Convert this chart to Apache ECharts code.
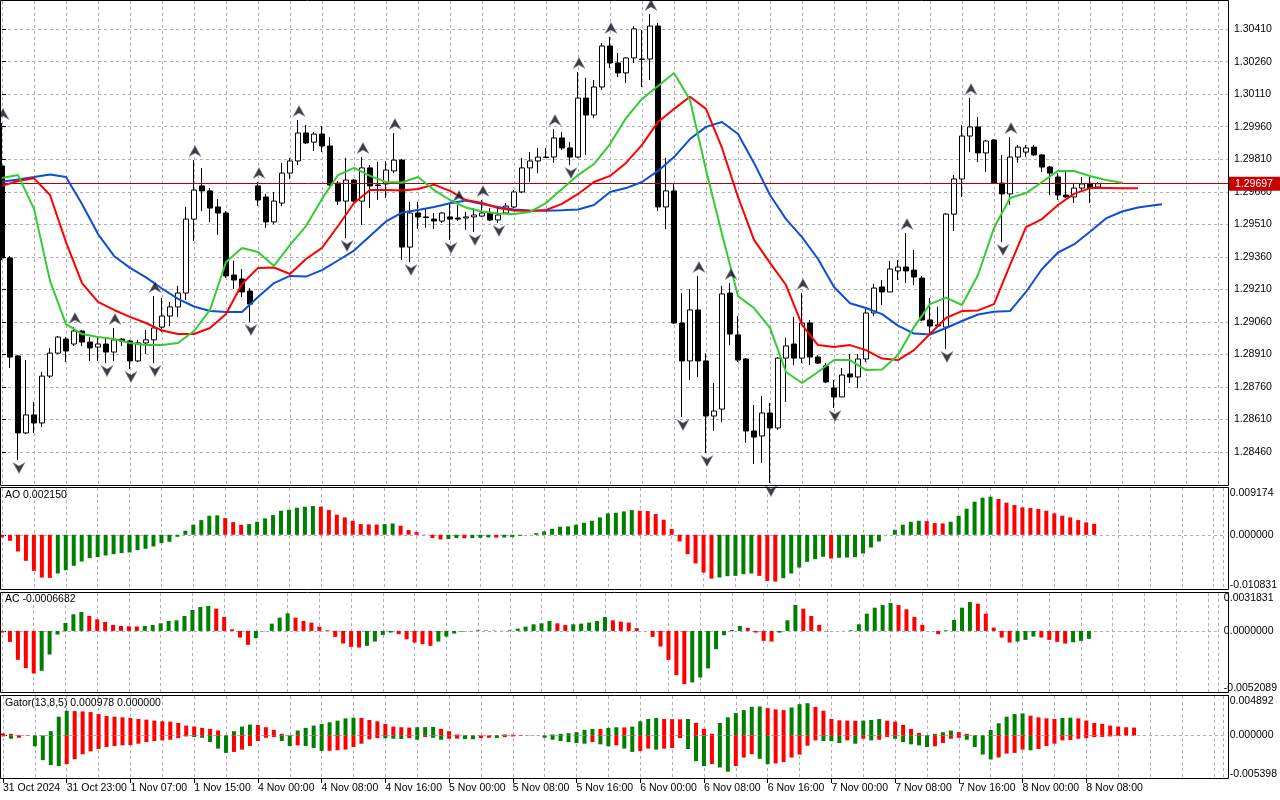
<!DOCTYPE html>
<html><head><meta charset="utf-8">
<script src="https://cdn.jsdelivr.net/npm/echarts@6/dist/echarts.min.js"></script>
<style>html,body{margin:0;padding:0;background:#fff}#c{width:1280px;height:800px}</style>
</head><body><div id="c"></div>
<script>
// ---------- data (H1 bars, index 0 = 31 Oct 15:00) ----------
const timeLabels = ['31 Oct 2024','31 Oct 23:00','1 Nov 07:00','1 Nov 15:00','4 Nov 00:00','4 Nov 08:00','4 Nov 16:00','5 Nov 00:00','5 Nov 08:00','5 Nov 16:00','6 Nov 00:00','6 Nov 08:00','6 Nov 16:00','7 Nov 00:00','7 Nov 08:00','7 Nov 16:00','8 Nov 00:00','8 Nov 08:00'];
const priceTicks = [1.28460,1.28610,1.28760,1.28910,1.29060,1.29210,1.29360,1.29510,1.29660,1.29810,1.29960,1.30110,1.30260,1.30410];
const priceRange = [1.283033, 1.305396];
const aoRange = [-0.010831, 0.009174];
const acRange = [-0.0052089, 0.0031831];
const gatorRange = [-0.005398, 0.004892];

const opens = [
1.29779,1.29355,1.28903,1.28548,1.28631,1.28594,1.28810,1.28916,1.28981,1.28958,
1.29018,1.28967,1.28944,1.28958,1.28921,1.28981,1.28972,1.28880,1.28963,1.28977,
1.29036,1.29087,1.29129,1.29193,1.29534,1.29687,1.29664,1.29590,1.29562,1.29276,
1.29258,1.29202,1.29687,1.29636,1.29521,1.29608,1.29746,1.29802,1.29931,1.29889,
1.29926,1.29871,1.29700,1.29617,1.29714,1.29617,1.29770,1.29691,1.29696,1.29756,
1.29806,1.29405,1.29562,1.29544,1.29534,1.29525,1.29544,1.29539,1.29539,1.29544,
1.29548,1.29562,1.29530,1.29562,1.29590,1.29659,1.29770,1.29802,1.29820,1.29820,
1.29908,1.29862,1.29820,1.30092,1.30014,1.30143,1.30332,1.30254,1.30208,1.30277,
1.30272,1.30272,1.30424,1.29590,1.29664,1.29055,1.28880,1.29115,1.28880,1.28626,
1.28658,1.29193,1.29000,1.28889,1.28557,1.28534,1.28640,1.28571,1.28893,1.28958,
1.28893,1.29055,1.28898,1.28857,1.28755,1.28714,1.28820,1.28806,1.28889,1.29101,
1.29221,1.29198,1.29295,1.29313,1.29299,1.29262,1.29069,1.29046,1.29036,1.29557,
1.29719,1.29917,1.29959,1.29839,1.29899,1.29700,1.29650,1.29820,1.29843,1.29866,
1.29830,1.29774,1.29728,1.29645,1.29636,1.29677,1.29696,1.29682];
const closes = [
1.29355,1.28898,1.28548,1.28631,1.28594,1.28810,1.28916,1.28990,1.28926,1.29018,
1.28967,1.28940,1.28958,1.28921,1.28977,1.28972,1.28880,1.28963,1.28977,1.29032,
1.29087,1.29129,1.29193,1.29534,1.29668,1.29664,1.29585,1.29562,1.29272,1.29253,
1.29198,1.29142,1.29622,1.29521,1.29617,1.29746,1.29802,1.29931,1.29885,1.29926,
1.29871,1.29691,1.29617,1.29714,1.29617,1.29770,1.29687,1.29689,1.29760,1.29806,
1.29405,1.29562,1.29544,1.29541,1.29525,1.29562,1.29534,1.29534,1.29544,1.29553,
1.29562,1.29530,1.29553,1.29594,1.29659,1.29770,1.29802,1.29820,1.29818,1.29908,
1.29862,1.29820,1.30092,1.30014,1.30143,1.30332,1.30254,1.30208,1.30277,1.30411,
1.30270,1.30424,1.29590,1.29664,1.29055,1.28880,1.29115,1.28880,1.28626,1.28649,
1.29189,1.29004,1.28884,1.28557,1.28529,1.28640,1.28571,1.28893,1.28949,1.28893,
1.29055,1.28898,1.28870,1.28783,1.28714,1.28815,1.28806,1.28889,1.29101,1.29216,
1.29198,1.29304,1.29313,1.29295,1.29267,1.29069,1.29041,1.29041,1.29557,1.29719,
1.29917,1.29959,1.29839,1.29894,1.29700,1.29650,1.29820,1.29866,1.29862,1.29830,
1.29774,1.29746,1.29645,1.29636,1.29677,1.29696,1.29677,1.29697];
const lows = [
1.29345,1.28847,1.28423,1.28543,1.28548,1.28575,1.28801,1.28912,1.28875,1.28949,
1.28949,1.28880,1.28880,1.28870,1.28880,1.28949,1.28843,1.28875,1.28912,1.28870,
1.29013,1.29041,1.29083,1.29161,1.29433,1.29571,1.29521,1.29461,1.29262,1.29212,
1.29175,1.29059,1.29594,1.29493,1.29511,1.29594,1.29719,1.29783,1.29880,1.29848,
1.29843,1.29687,1.29599,1.29447,1.29599,1.29507,1.29585,1.29622,1.29631,1.29746,
1.29345,1.29336,1.29488,1.29493,1.29488,1.29516,1.29438,1.29525,1.29484,1.29474,
1.29544,1.29525,1.29516,1.29557,1.29585,1.29654,1.29705,1.29746,1.29816,1.29793,
1.29853,1.29783,1.29816,1.29830,1.30000,1.30129,1.30231,1.30189,1.30161,1.30254,
1.30143,1.30175,1.29571,1.29488,1.29050,1.28621,1.28792,1.28806,1.28455,1.28557,
1.28598,1.28953,1.28875,1.28502,1.28405,1.28409,1.28317,1.28562,1.28691,1.28861,
1.28870,1.28861,1.28866,1.28778,1.28663,1.28714,1.28778,1.28755,1.28875,1.29087,
1.29138,1.29198,1.29253,1.29239,1.29230,1.29064,1.29004,1.29036,1.28935,1.29479,
1.29636,1.29843,1.29797,1.29751,1.29696,1.29428,1.29599,1.29793,1.29820,1.29825,
1.29751,1.29645,1.29622,1.29631,1.29608,1.29659,1.29608,1.29677];
const highs = [
1.29977,1.29364,1.28907,1.28884,1.28691,1.28829,1.28940,1.28995,1.28990,1.29036,
1.29023,1.28990,1.28990,1.28986,1.29032,1.28986,1.28977,1.28977,1.29023,1.29179,
1.29170,1.29152,1.29226,1.29590,1.29806,1.29770,1.29677,1.29627,1.29571,1.29341,
1.29304,1.29216,1.29705,1.29650,1.29659,1.29793,1.29816,1.29991,1.29968,1.29936,
1.29963,1.29912,1.29710,1.29816,1.29719,1.29820,1.29783,1.29797,1.29802,1.29931,
1.29811,1.29613,1.29613,1.29581,1.29562,1.29567,1.29608,1.29599,1.29567,1.29585,
1.29622,1.29585,1.29590,1.29608,1.29668,1.29816,1.29843,1.29862,1.29862,1.29949,
1.29936,1.29889,1.30212,1.30185,1.30175,1.30346,1.30374,1.30300,1.30281,1.30424,
1.30406,1.30480,1.30438,1.29816,1.29700,1.29193,1.29212,1.29272,1.28916,1.28778,
1.29226,1.29239,1.29087,1.28893,1.28677,1.28718,1.28686,1.28898,1.28986,1.29083,
1.29193,1.29069,1.28907,1.28870,1.28792,1.28847,1.28912,1.28912,1.29124,1.29235,
1.29253,1.29341,1.29345,1.29470,1.29391,1.29272,1.29170,1.29129,1.29562,1.29737,
1.29968,1.30092,1.30005,1.29899,1.29903,1.29830,1.29912,1.29876,1.29876,1.29876,
1.29834,1.29779,1.29746,1.29751,1.29696,1.29728,1.29728,1.29705];

const fractalUp = [0,9,14,19,24,32,37,45,49,57,60,69,72,76,81,87,91,100,113,121,126];
const fractalDown = [2,13,16,19,31,43,51,56,59,62,71,85,88,96,104,118,125];

// Alligator lines, sampled every 2nd bar (already shifted as drawn)
const lips = [
1.29723,1.29737,1.29581,1.29249,1.29050,1.29004,1.28990,1.28981,1.28963,1.28953,
1.28953,1.28963,1.29018,1.29115,1.29336,1.29401,1.29382,1.29318,1.29415,1.29502,
1.29627,1.29737,1.29770,1.29733,1.29705,1.29703,1.29728,1.29668,1.29622,1.29587,
1.29569,1.29560,1.29557,1.29567,1.29608,1.29673,1.29737,1.29788,1.29880,1.30000,
1.30088,1.30148,1.30208,1.30083,1.29760,1.29465,1.29179,1.29124,1.29032,1.28829,
1.28778,1.28829,1.28884,1.28884,1.28838,1.28840,1.28907,1.29036,1.29142,1.29172,
1.29138,1.29276,1.29493,1.29631,1.29654,1.29705,1.29756,1.29756,1.29733,1.29714,
1.29702];
const teeth = [
1.29687,1.29710,1.29722,1.29645,1.29428,1.29239,1.29152,1.29115,1.29083,1.29055,
1.29020,1.29004,1.29004,1.29032,1.29096,1.29235,1.29309,1.29311,1.29281,1.29350,
1.29401,1.29502,1.29608,1.29668,1.29668,1.29666,1.29673,1.29693,1.29664,1.29622,
1.29608,1.29585,1.29574,1.29571,1.29576,1.29604,1.29650,1.29705,1.29733,1.29793,
1.29876,1.29982,1.30042,1.30098,1.30042,1.29862,1.29636,1.29438,1.29332,1.29230,
1.29046,1.28953,1.28944,1.28953,1.28930,1.28891,1.28884,1.28930,1.29004,1.29078,
1.29110,1.29113,1.29142,1.29322,1.29497,1.29534,1.29599,1.29650,1.29677,1.29677,
1.29676,1.29676];
const jaw = [
1.29706,1.29717,1.29728,1.29740,1.29728,1.29604,1.29465,1.29364,1.29309,1.29265,
1.29214,1.29166,1.29131,1.29110,1.29106,1.29106,1.29175,1.29239,1.29272,1.29269,
1.29299,1.29343,1.29389,1.29456,1.29523,1.29564,1.29576,1.29590,1.29607,1.29620,
1.29604,1.29590,1.29578,1.29574,1.29573,1.29575,1.29578,1.29599,1.29659,1.29677,
1.29705,1.29756,1.29820,1.29903,1.29959,1.29982,1.29926,1.29793,1.29645,1.29534,
1.29451,1.29350,1.29221,1.29146,1.29124,1.29096,1.29043,1.29006,1.29002,1.29032,
1.29064,1.29094,1.29107,1.29110,1.29198,1.29304,1.29380,1.29417,1.29476,1.29537,
1.29569,1.29587,1.29598];
const jawLast = [145, 1.29602];

const ao = [
-0.000500,-0.001180,-0.003277,-0.005111,-0.007077,-0.008388,-0.008453,-0.007601,-0.006946,-0.006094,
-0.005242,-0.004587,-0.004391,-0.004063,-0.003801,-0.003604,-0.003473,-0.003014,-0.002752,-0.002294,
-0.001638,-0.001376,-0.000393,0.000786,0.001966,0.002883,0.003735,0.003801,0.003277,0.002490,
0.001966,0.002097,0.002556,0.003211,0.003866,0.004718,0.004915,0.005308,0.005505,0.005636,
0.005505,0.004849,0.003932,0.003408,0.002752,0.002097,0.002031,0.001999,0.002097,0.002228,
0.001769,0.000917,0.000524,-0.000066,-0.000655,-0.000917,-0.000852,-0.000655,-0.000688,-0.000655,
-0.000590,-0.000524,-0.000557,-0.000524,-0.000459,-0.000197,0.000010,0.000328,0.000655,0.001180,
0.001573,0.001638,0.001966,0.002359,0.002752,0.003408,0.004194,0.004325,0.004587,0.004849,
0.004718,0.004653,0.004063,0.002949,0.001114,-0.001311,-0.003801,-0.005636,-0.007405,-0.008584,
-0.008388,-0.008126,-0.008060,-0.007733,-0.007601,-0.008060,-0.009043,-0.009174,-0.008519,-0.007601,
-0.006422,-0.005308,-0.004784,-0.004325,-0.004653,-0.004522,-0.004456,-0.004391,-0.003670,-0.002490,
-0.001311,0.000030,0.000983,0.001966,0.002556,0.002752,0.002687,0.002294,0.002228,0.002556,
0.003735,0.005111,0.006487,0.007274,0.007470,0.007012,0.006291,0.005832,0.005373,0.005242,
0.005046,0.004718,0.004194,0.003735,0.003408,0.002883,0.002425,0.002150];
const ac = [
-0.000139,-0.000920,-0.002426,-0.003123,-0.003569,-0.003346,-0.001979,-0.000307,0.000669,0.001394,
0.001589,0.001255,0.000976,0.000753,0.000502,0.000418,0.000390,0.000376,0.000418,0.000502,
0.000641,0.000836,0.000892,0.001255,0.001756,0.002007,0.002091,0.001868,0.001171,0.000139,
-0.000558,-0.001171,-0.000613,-0.000028,0.000613,0.001115,0.001478,0.001115,0.000836,0.000697,
0.000362,0.000056,-0.000502,-0.001059,-0.001338,-0.001394,-0.001255,-0.000892,-0.000335,-0.000139,
-0.000279,-0.000697,-0.000976,-0.001115,-0.001255,-0.000892,-0.000474,-0.000223,-0.000056,-0.000028,
0.000056,0.000042,0.000028,0.000014,0.000056,0.000195,0.000362,0.000558,0.000641,0.000836,
0.000641,0.000502,0.000558,0.000613,0.000697,0.000836,0.001171,0.000892,0.000781,0.000697,
0.000223,-0.000010,-0.000502,-0.001310,-0.002426,-0.003708,-0.004461,-0.004321,-0.003903,-0.003150,
-0.001533,-0.000362,0.000084,0.000418,0.000251,-0.000139,-0.000836,-0.000892,-0.000139,0.000892,
0.002175,0.001868,0.001255,0.000502,-0.000028,0.000000,0.000008,0.000056,0.000558,0.001450,
0.001952,0.002175,0.002342,0.002175,0.001812,0.001171,0.000502,0.000000,-0.000279,0.000056,
0.000920,0.001952,0.002426,0.002286,0.001450,0.000279,-0.000558,-0.000976,-0.000892,-0.000753,
-0.000474,-0.000558,-0.000753,-0.000920,-0.001059,-0.000948,-0.000836,-0.0006682];
const gatorUp = [
0.000245,0.000204,0.000041,0.000020,0.000010,0.000005,0.000531,0.002327,0.003062,0.003021,
0.002981,0.002899,0.002654,0.002409,0.002327,0.002246,0.002164,0.002042,0.001960,0.001837,
0.001756,0.001715,0.001552,0.001225,0.001102,0.000939,0.000817,0.000612,0.000020,0.000531,
0.001102,0.001347,0.001307,0.001021,0.000694,0.000204,0.000020,0.000612,0.000939,0.001225,
0.001429,0.001633,0.001837,0.002123,0.002205,0.002164,0.001919,0.001756,0.001429,0.001102,
0.001021,0.000980,0.001021,0.001041,0.001062,0.000817,0.000531,0.000122,0.000041,0.000020,
0.000010,0.000005,0.000041,0.000122,0.000102,0.000041,0.000020,0.000010,0.000005,0.000122,
0.000204,0.000286,0.000408,0.000694,0.000817,0.000796,0.000939,0.001021,0.001000,0.001102,
0.001756,0.002042,0.002164,0.002042,0.002021,0.002001,0.002042,0.001552,0.000817,0.000204,
0.001552,0.002246,0.002776,0.003144,0.003552,0.003593,0.003389,0.003226,0.003144,0.003471,
0.003879,0.004001,0.003552,0.003062,0.002042,0.001878,0.001837,0.001817,0.001837,0.001919,
0.002042,0.001837,0.001715,0.001307,0.000817,0.000327,0.000041,0.000204,0.000408,0.000612,
0.000408,0.000204,0.000041,0.000020,0.000694,0.001511,0.002327,0.002654,0.002736,0.002450,
0.002246,0.002123,0.002042,0.002164,0.002205,0.002123,0.001837,0.001552,0.001429,0.001225,
0.001102,0.001021,0.000978];
const gatorDown = [
-0.000122,-0.000408,-0.000286,-0.000041,-0.001347,-0.003062,-0.003675,-0.003797,-0.003552,-0.002940,
-0.002327,-0.001960,-0.001674,-0.001429,-0.001307,-0.001225,-0.001204,-0.001021,-0.000817,-0.000694,
-0.000612,-0.000531,-0.000327,-0.000122,-0.000204,-0.000286,-0.000817,-0.001633,-0.002164,-0.002042,
-0.001756,-0.001307,-0.000694,-0.000286,-0.000204,-0.000694,-0.001307,-0.001225,-0.001307,-0.001552,
-0.001919,-0.001899,-0.001837,-0.001756,-0.001429,-0.001021,-0.000490,-0.000327,-0.000347,-0.000408,
-0.000429,-0.000327,-0.000531,-0.000204,-0.000286,-0.000531,-0.000408,-0.000388,-0.000449,-0.000470,
-0.000327,-0.000286,-0.000306,-0.000204,-0.000122,-0.000041,-0.000020,-0.000010,-0.000286,-0.000531,
-0.000694,-0.000817,-0.000939,-0.001021,-0.000817,-0.001102,-0.001347,-0.001225,-0.001633,-0.002042,
-0.001919,-0.001633,-0.001756,-0.001633,-0.001552,-0.000327,-0.001674,-0.003185,-0.003797,-0.003552,
-0.003961,-0.004491,-0.003797,-0.002736,-0.002327,-0.002899,-0.003552,-0.003471,-0.003307,-0.002736,
-0.002368,-0.001266,-0.000612,-0.000694,-0.000715,-0.000939,-0.000612,-0.001021,-0.000408,-0.000612,
-0.000531,-0.000204,-0.000408,-0.000817,-0.001102,-0.001225,-0.001429,-0.001347,-0.000939,-0.000408,
-0.000286,-0.000531,-0.001429,-0.002368,-0.002981,-0.002736,-0.002246,-0.002164,-0.001756,-0.001837,
-0.001674,-0.001307,-0.001021,-0.000612,-0.000572,-0.000408,-0.000327,-0.000204,-0.000184,-0.000122,
-0.000082,0,0];

// ---------- chart ----------
const FONT = 'Liberation Sans';
const FS = 10.5;
const X_MAX = 153.25;           // bar slots spanned by the plot width
const GREEN = '#008000', RED = '#ff0000';
const GRID_COLOR = '#b6a9ba';
const N = opens.length;

const panels = [
  {top: 1, height: 485},
  {top: 488, height: 102},
  {top: 593, height: 100},
  {top: 696, height: 83}
];

const candleData = opens.map((o, i) => [i, o, closes[i], lows[i], highs[i]]);
const step = 2;
const toLine = arr => arr.map((v, k) => [k * step, v]);
const jawData = toLine(jaw).concat([jawLast]);

function upDownColors(arr, absMode) {
  return arr.map((v, i) => {
    if (i === 0) return RED;
    const a = absMode ? Math.abs(v) : v, b = absMode ? Math.abs(arr[i-1]) : arr[i-1];
    return a > b ? GREEN : RED;
  });
}
const aoColors = upDownColors(ao, false);
const acColors = upDownColors(ac, false);
const guColors = upDownColors(gatorUp, true);
const gdColors = upDownColors(gatorDown, true);

const labelIdx = timeLabels.map((_, k) => k * 8);

const xAxes = panels.map((p, g) => ({
  type: 'value', gridIndex: g, min: 0, max: X_MAX, interval: 4, position: 'bottom',
  axisLine: {show: false}, axisTick: {show: false}, axisLabel: {show: false},
  splitLine: {show: true, lineStyle: {color: GRID_COLOR, width: 1, type: [3, 3]}}
}));
xAxes.push({
  type: 'value', gridIndex: 3, min: 0, max: X_MAX, interval: 8, position: 'bottom',
  axisLine: {show: false}, splitLine: {show: false},
  axisTick: {show: true, customValues: labelIdx, length: 4, lineStyle: {color: '#000'}},
  axisLabel: {show: true, customValues: labelIdx, align: 'left', margin: 4,
    color: '#000', fontSize: FS, fontFamily: FONT,
    formatter: v => timeLabels[Math.round(v / 8)] || ''}
});

function panelYAxis(g, range, digits) {
  const lo = range[0], hi = range[1];
  const pad = (hi - lo) * 5 / panels[g].height;
  return {
    type: 'value', gridIndex: g, position: 'right', min: lo, max: hi,
    axisLine: {show: false}, splitLine: {show: false},
    axisTick: {show: true, customValues: [0], length: 4, lineStyle: {color: '#000'}},
    axisLabel: {customValues: [lo + pad, 0, hi - pad], margin: 6, color: '#000', fontSize: FS, fontFamily: FONT,
      formatter: v => (v > 0 ? hi : (v < 0 ? lo : 0)).toFixed(digits)}
  };
}
const yAxes = [
  {type: 'value', gridIndex: 0, position: 'right', min: priceRange[0], max: priceRange[1],
   axisLine: {show: false}, splitLine: {show: false},
   axisTick: {show: true, customValues: priceTicks, length: 4, lineStyle: {color: '#000'}},
   axisLabel: {customValues: priceTicks, margin: 6, color: '#000', fontSize: FS, fontFamily: FONT,
     formatter: v => v.toFixed(5)}},
  panelYAxis(1, aoRange, 6),
  panelYAxis(2, acRange, 7),
  panelYAxis(3, gatorRange, 6)
];

const dash = {color: GRID_COLOR, width: 1, type: [3, 3]};
const lastClose = closes[N - 1];

const upArrow = 'path://M6,0 L12,11 L6,7.5 L0,11 Z';
const downArrow = 'path://M0,0 L6,3.5 L12,0 L6,11 Z';

const series = [
  // horizontal price grid (drawn below candles)
  {type: 'line', xAxisIndex: 0, yAxisIndex: 0, data: [[0, priceTicks[0]]], showSymbol: false,
   lineStyle: {width: 0}, z: 0, silent: true,
   markLine: {silent: true, symbol: 'none', z: 0, precision: 6, animation: false,
     data: priceTicks.map(v => ({yAxis: v})), lineStyle: dash, label: {show: false}}},
  {
    type: 'candlestick', xAxisIndex: 0, yAxisIndex: 0, data: candleData, barWidth: 5,
    itemStyle: {color: '#ffffff', color0: '#000000', borderColor: '#000000', borderColor0: '#000000', borderColorDoji: '#000000', borderWidth: 1},
    emphasis: {disabled: true}, z: 2
  },
  {type: 'line', xAxisIndex: 0, yAxisIndex: 0, data: jawData, showSymbol: false, z: 3,
   lineStyle: {color: '#0a4fd6', width: 2}, emphasis: {disabled: true}},
  {type: 'line', xAxisIndex: 0, yAxisIndex: 0, data: toLine(teeth), showSymbol: false, z: 3,
   lineStyle: {color: '#ff0000', width: 2}, emphasis: {disabled: true},
   markLine: {silent: true, symbol: 'none', z: 3, precision: 6, animation: false,
     data: [{yAxis: lastClose}],
     lineStyle: {color: '#b40000', width: 1, type: 'solid'},
     label: {show: true, position: 'end', distance: 1, formatter: lastClose.toFixed(5),
       color: '#ffffff', backgroundColor: '#c80000', padding: [2, 8, 1, 6], fontSize: FS, fontFamily: FONT}}},
  {type: 'line', xAxisIndex: 0, yAxisIndex: 0, data: toLine(lips), showSymbol: false, z: 3,
   lineStyle: {color: '#32cd32', width: 2}, emphasis: {disabled: true}},
  {type: 'scatter', xAxisIndex: 0, yAxisIndex: 0, data: fractalUp.map(i => [i, highs[i]]),
   symbol: upArrow, symbolSize: [12, 11], symbolOffset: [1, -9], z: 4,
   itemStyle: {color: '#101010', borderColor: '#8090b0', borderWidth: 0.6}, emphasis: {disabled: true}},
  {type: 'scatter', xAxisIndex: 0, yAxisIndex: 0, data: fractalDown.map(i => [i, lows[i]]),
   symbol: downArrow, symbolSize: [12, 11], symbolOffset: [1, 8], z: 4,
   itemStyle: {color: '#101010', borderColor: '#8090b0', borderWidth: 0.6}, emphasis: {disabled: true}},
  {type: 'bar', xAxisIndex: 1, yAxisIndex: 1, data: ao.map((v, i) => [i, v]), barWidth: 4,
   itemStyle: {color: p => aoColors[p.dataIndex]}, emphasis: {disabled: true},
   markLine: {silent: true, symbol: 'none', z: 1, precision: 8, data: [{yAxis: 0}], lineStyle: dash, label: {show: false}}},
  {type: 'bar', xAxisIndex: 2, yAxisIndex: 2, data: ac.map((v, i) => [i, v]), barWidth: 4,
   itemStyle: {color: p => acColors[p.dataIndex]}, emphasis: {disabled: true},
   markLine: {silent: true, symbol: 'none', z: 1, precision: 8, data: [{yAxis: 0}], lineStyle: dash, label: {show: false}}},
  {type: 'bar', xAxisIndex: 3, yAxisIndex: 3, stack: 'gator', data: gatorUp.map((v, i) => [i, v]), barWidth: 4,
   itemStyle: {color: p => guColors[p.dataIndex]}, emphasis: {disabled: true},
   markLine: {silent: true, symbol: 'none', z: 1, precision: 8, data: [{yAxis: 0}], lineStyle: dash, label: {show: false}}},
  {type: 'bar', xAxisIndex: 3, yAxisIndex: 3, stack: 'gator', data: gatorDown.map((v, i) => [i, v]), barWidth: 4,
   itemStyle: {color: p => gdColors[p.dataIndex]}, emphasis: {disabled: true}}
];

const frameStyle = {fill: 'none', stroke: '#000', lineWidth: 1};
const graphic = [
  {type: 'rect', z: 100, shape: {x: 0.5, y: 0.5, width: 1228, height: 485}, style: frameStyle, silent: true},
  {type: 'rect', z: 100, shape: {x: 0.5, y: 487.5, width: 1228, height: 102}, style: frameStyle, silent: true},
  {type: 'rect', z: 100, shape: {x: 0.5, y: 592.5, width: 1228, height: 100}, style: frameStyle, silent: true},
  {type: 'rect', z: 100, shape: {x: 0.5, y: 695.5, width: 1228, height: 83}, style: frameStyle, silent: true},
  {type: 'text', z: 101, left: 5, top: 490, silent: true,
   style: {text: 'AO ' + ao[N-1].toFixed(6), fill: '#000', font: FS + 'px "' + FONT + '"'}},
  {type: 'text', z: 101, left: 5, top: 594, silent: true,
   style: {text: 'AC ' + ac[N-1].toFixed(7), fill: '#000', font: FS + 'px "' + FONT + '"'}},
  {type: 'text', z: 101, left: 5, top: 698, silent: true,
   style: {text: 'Gator(13,8,5) ' + gatorUp[gatorUp.length-1].toFixed(6) + ' ' + Math.abs(gatorDown[gatorDown.length-1]).toFixed(6), fill: '#000', font: FS + 'px "' + FONT + '"'}}
];

const chart = echarts.init(document.getElementById('c'), null, {renderer: 'canvas'});
chart.setOption({
  animation: false,
  backgroundColor: '#ffffff',
  textStyle: {fontFamily: FONT},
  grid: panels.map(p => ({left: 2, width: 1226, top: p.top, height: p.height, containLabel: false})),
  xAxis: xAxes,
  yAxis: yAxes,
  series: series,
  graphic: graphic
});
</script>
</body></html>
